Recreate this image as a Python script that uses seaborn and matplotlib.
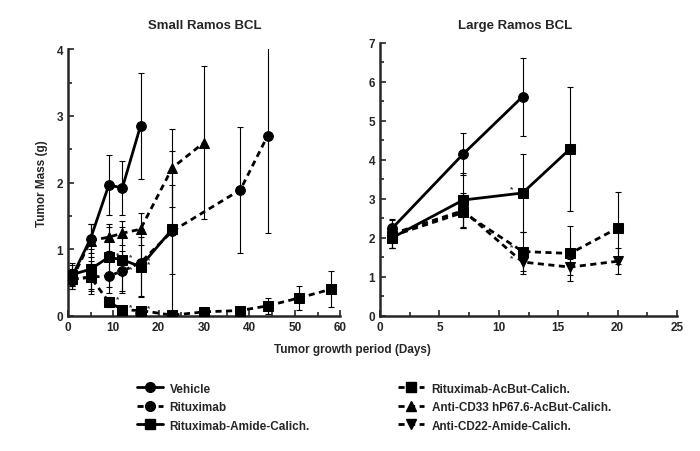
import matplotlib
matplotlib.use("Agg")
import matplotlib.pyplot as plt
import seaborn as sns
import pandas as pd
import numpy as np
from matplotlib.ticker import MultipleLocator

# Small Ramos BCL
veh_s_days = [1, 5, 9, 12, 16]
veh_s = [0.60, 1.16, 1.96, 1.92, 2.85]
veh_s_sd = [0.20, 0.22, 0.45, 0.41, 0.80]

rit_s_days = [1, 5, 9, 12, 16, 23, 38, 44]
rit_s = [0.55, 0.58, 0.60, 0.67, 0.80, 1.27, 1.89, 2.70]
rit_s_sd = [0.10, 0.20, 0.25, 0.30, 0.50, 1.20, 0.94, 1.45]

ami_s_days = [1, 5, 9, 12, 16, 23]
ami_s = [0.62, 0.70, 0.88, 0.84, 0.74, 1.30]
ami_s_sd = [0.15, 0.30, 0.45, 0.50, 0.45, 0.67]

acb_s_days = [1, 5, 9, 12, 16, 23, 30, 38, 44, 51, 58]
acb_s = [0.55, 0.58, 0.21, 0.09, 0.08, 0.01, 0.06, 0.08, 0.15, 0.27, 0.40]
acb_s_sd = [0.10, 0.25, 0.08, 0.05, 0.05, 0.02, 0.03, 0.04, 0.12, 0.18, 0.27]

cd33_s_days = [1, 5, 9, 12, 16, 23, 30]
cd33_s = [0.56, 1.13, 1.18, 1.24, 1.30, 2.22, 2.60]
cd33_s_sd = [0.15, 0.25, 0.20, 0.18, 0.24, 0.58, 1.15]

# Large Ramos BCL
veh_l_days = [1, 7, 12]
veh_l = [2.24, 4.15, 5.62]
veh_l_sd = [0.25, 0.55, 1.00]

ami_l_days = [1, 7, 12, 16]
ami_l = [2.00, 2.97, 3.15, 4.28]
ami_l_sd = [0.25, 0.70, 1.00, 1.60]

acb_l_days = [1, 7, 12, 16, 20]
acb_l = [2.05, 2.65, 1.65, 1.60, 2.25]
acb_l_sd = [0.30, 0.40, 0.50, 0.70, 0.93]

cd22_l_days = [1, 7, 12, 16, 20]
cd22_l = [2.10, 2.70, 1.38, 1.25, 1.40]
cd22_l_sd = [0.35, 0.45, 0.30, 0.20, 0.33]

labels = ["Vehicle", "Rituximab", "Rituximab-Amide-Calich.",
          "Rituximab-AcBut-Calich.", "Anti-CD33 hP67.6-AcBut-Calich.",
          "Anti-CD22-Amide-Calich."]
DASH = (0, (2.2, 1.6))
styles = {
    "Vehicle": ("-", "o"),
    "Rituximab": (DASH, "o"),
    "Rituximab-Amide-Calich.": ("-", "s"),
    "Rituximab-AcBut-Calich.": (DASH, "s"),
    "Anti-CD33 hP67.6-AcBut-Calich.": (DASH, "^"),
    "Anti-CD22-Amide-Calich.": (DASH, "v"),
}

sns.set_style("ticks")
plt.rcParams['font.family'] = ['Liberation Sans', 'DejaVu Sans']
plt.rcParams['font.weight'] = 'bold'

fig = plt.figure(figsize=(7, 4.52), dpi=100)
ax1 = fig.add_axes([0.097, 0.299, 0.389, 0.59])
ax2 = fig.add_axes([0.543, 0.299, 0.424, 0.604])


def draw(ax, label, days, vals, sd):
    ls, mk = styles[label]
    df = pd.DataFrame({"day": days, "mass": vals})
    ax.errorbar(days, vals, yerr=sd, fmt="none", ecolor="black",
                elinewidth=0.8, capsize=2, capthick=0.8, zorder=2)
    sns.lineplot(data=df, x="day", y="mass", ax=ax, color="black",
                 linestyle=ls, marker=mk, markersize=7, linewidth=2,
                 markeredgecolor="black", dashes=False, label=label,
                 legend=False, zorder=3)


draw(ax1, "Vehicle", veh_s_days, veh_s, veh_s_sd)
draw(ax1, "Rituximab", rit_s_days, rit_s, rit_s_sd)
draw(ax1, "Rituximab-Amide-Calich.", ami_s_days, ami_s, ami_s_sd)
draw(ax1, "Rituximab-AcBut-Calich.", acb_s_days, acb_s, acb_s_sd)
draw(ax1, "Anti-CD33 hP67.6-AcBut-Calich.", cd33_s_days, cd33_s, cd33_s_sd)

draw(ax2, "Vehicle", veh_l_days, veh_l, veh_l_sd)
draw(ax2, "Rituximab-Amide-Calich.", ami_l_days, ami_l, ami_l_sd)
draw(ax2, "Rituximab-AcBut-Calich.", acb_l_days, acb_l, acb_l_sd)
draw(ax2, "Anti-CD22-Amide-Calich.", cd22_l_days, cd22_l, cd22_l_sd)

# significance stars next to treated points
for days, vals in [(rit_s_days[2:5], rit_s[2:5]), (ami_s_days[2:5], ami_s[2:5]),
                   (acb_s_days[2:5], acb_s[2:5])]:
    for d, v in zip(days, vals):
        ax1.annotate("*", (d, v), xytext=(5, 1), textcoords="offset points",
                     fontsize=6, color="#333333")
for d, v in [(ami_l_days[2], ami_l[2]), (acb_l_days[2], acb_l[2]),
             (cd22_l_days[2], cd22_l[2])]:
    ax2.annotate("*", (d, v), xytext=(-9, 2), textcoords="offset points",
                 fontsize=6, color="#333333")

for ax, xmax, xstep, ymax in [(ax1, 60, 10, 4), (ax2, 25, 5, 7)]:
    ax.set_xlim(0, xmax)
    ax.set_ylim(0, ymax)
    ax.xaxis.set_major_locator(MultipleLocator(xstep))
    ax.xaxis.set_minor_locator(MultipleLocator(xstep / 2))
    ax.yaxis.set_major_locator(MultipleLocator(1))
    ax.yaxis.set_minor_locator(MultipleLocator(0.5))
    ax.tick_params(which="both", direction="in", width=1.2, labelsize=8.5)
    ax.tick_params(which="major", length=4)
    ax.tick_params(which="minor", length=3)
    for s in ["left", "bottom"]:
        ax.spines[s].set_linewidth(1.8)
    sns.despine(ax=ax)
    ax.set_xlabel("")
    ax.set_ylabel("")
    for t in ax.get_xticklabels() + ax.get_yticklabels():
        t.set_fontweight("bold")

fig.text(0.293, 0.942, "Small Ramos BCL", ha="center", va="center",
         fontsize=9.5, fontweight="bold")
fig.text(0.736, 0.942, "Large Ramos BCL", ha="center", va="center",
         fontsize=9.5, fontweight="bold")
ax1.set_ylabel("Tumor Mass (g)", fontsize=8.5, fontweight="bold", labelpad=6)
fig.text(0.503, 0.218, "Tumor growth period (Days)", ha="center",
         fontsize=8.5, fontweight="bold")

handles = []
for lab in labels:
    ls, mk = styles[lab]
    h, = ax1.plot([], [], color="black", linestyle=ls, marker=mk,
                  markersize=7, linewidth=2)
    handles.append(h)
fig.legend(handles, labels, ncol=2, loc="upper left",
           bbox_to_anchor=(0.18, 0.175), frameon=False,
           handlelength=2.2, handletextpad=0.6, columnspacing=7.5,
           labelspacing=0.55, prop={"weight": "bold", "size": 8.5})

fig.savefig("out.png", dpi=100)
